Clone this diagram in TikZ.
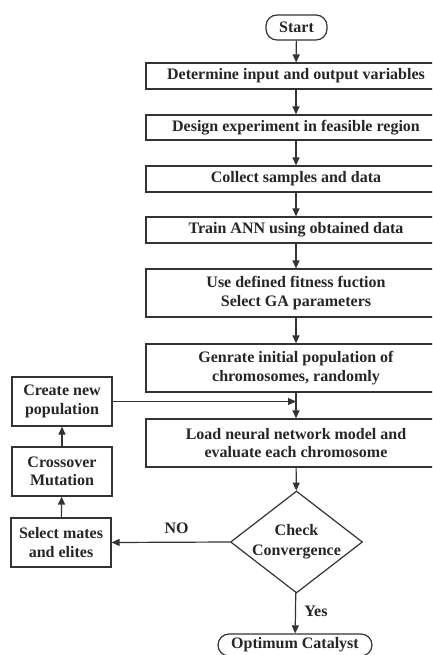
\documentclass[tikz,border=0pt]{standalone}
\usepackage{fontspec}
\setmainfont{Liberation Serif}
\usetikzlibrary{shapes.geometric,arrows.meta}
\begin{document}
\begin{tikzpicture}[x=1pt,y=-1pt,
  font=\fontsize{16}{18.5}\selectfont\bfseries,
  every node/.style={text=black!85},
  box/.style={draw=black!80,line width=1.2pt,minimum width=300pt,inner sep=0pt,align=center},
  sbox/.style={draw=black!80,line width=1.2pt,minimum width=100pt,minimum height=49pt,inner sep=0pt,align=center},
  term/.style={draw=black!80,line width=1.2pt,rounded corners=11pt,inner sep=0pt,align=center},
  dec/.style={draw=black!80,line width=1.2pt,diamond,aspect=1.3,minimum width=132pt,minimum height=102pt,inner sep=-6pt,align=center},
  arr/.style={draw=black!80,line width=1.2pt,-{Triangle[length=8pt,width=7pt]}},
  ln/.style={draw=black!80,line width=1.2pt}]
\useasboundingbox (0,0) rectangle (432,655);
\fill[white] (0,0) rectangle (432,655);
\begin{scope}
\clip (0,0) rectangle (432,655);
\node[term,minimum width=61pt,minimum height=25pt] (start) at (296.5,27.5) {Start};
\node[box,minimum height=26pt] (b1) at (296,76) {Determine input and output variables};
\node[box,minimum height=25pt] (b2) at (296,127.5) {Design experiment in feasible region};
\node[box,minimum height=26pt] (b3) at (296,179) {Collect samples and data};
\node[box,minimum height=26pt] (b4) at (296,230) {Train ANN using obtained data};
\node[box,minimum height=48pt] (b5) at (296,293) {Use defined fitness fuction\\Select GA parameters};
\node[box,minimum height=48pt] (b6) at (296,368) {Genrate initial population of\\chromosomes, randomly};
\node[box,minimum height=48pt] (b7) at (296,443) {Load neural network model and\\evaluate each chromosome};
\node[dec] (dia) at (296.5,542) {Check\\[1.5pt]Convergence};
\node[term,minimum width=154pt,minimum height=22pt] (opt) at (295,645) {Optimum Catalyst};
\node[sbox] (cnp) at (62,401.5) {Create new\\population};
\node[sbox] (cm) at (62,471.5) {Crossover\\Mutation};
\node[sbox] (sme) at (61,542.5) {Select mates\\and elites};
\coordinate (join) at (296,401.5);
\draw[arr] (start) -- (b1);
\draw[arr] (b1) -- (b2);
\draw[arr] (b2) -- (b3);
\draw[arr] (b3) -- (b4);
\draw[arr] (b4) -- (b5);
\draw[arr] (b5) -- (b6);
\draw[arr] (b6) -- (b7);
\draw[arr] (cnp.east) -- (join);
\draw[arr] (b7) -- (dia);
\draw[arr] (dia) -- node[right=5pt,pos=0.45] {Yes} (opt);
\draw[arr] (dia.west) -- node[above=5pt,pos=0.45] {NO} (sme.east);
\draw[arr] (sme) -- (cm);
\draw[arr] (cm) -- (cnp);
\end{scope}
\end{tikzpicture}
\end{document}
